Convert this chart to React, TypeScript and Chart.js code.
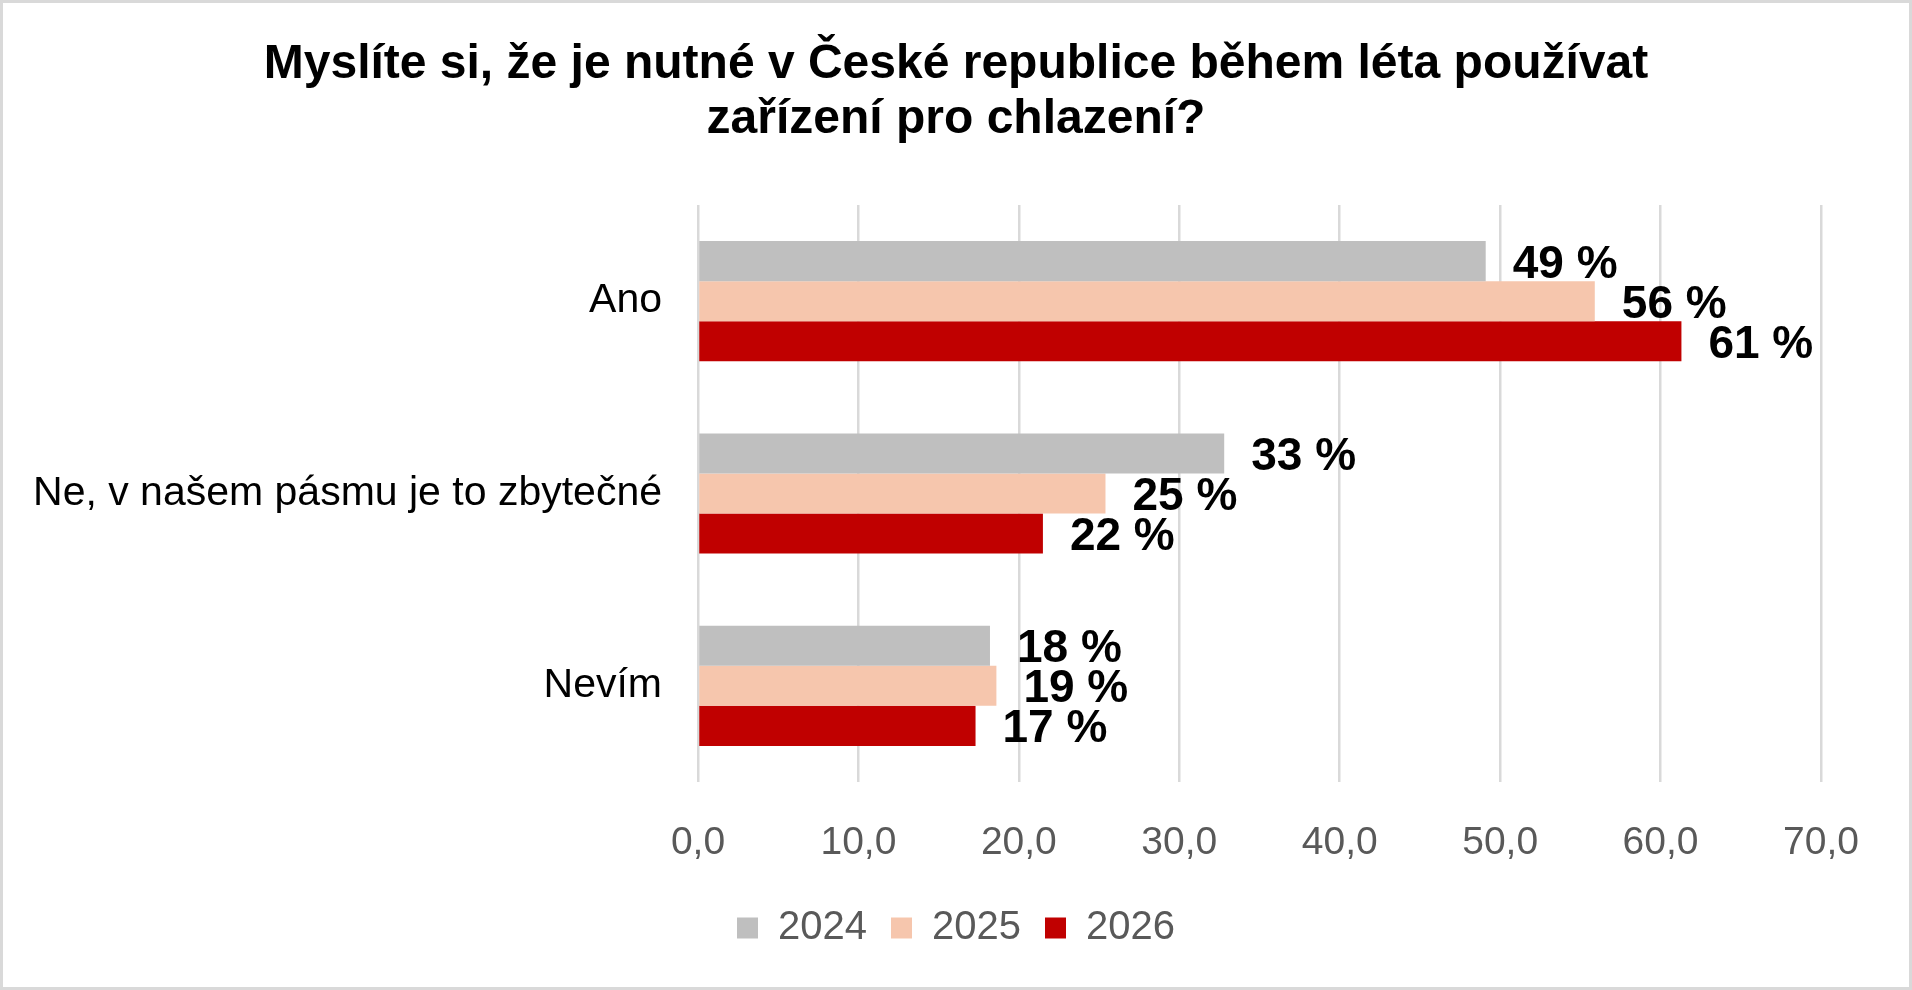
import React, { useEffect, useRef } from "react";
import { Chart, registerables } from "chart.js";

Chart.register(...registerables);

const categories = ["Ano", "Ne, v našem pásmu je to zbytečné", "Nevím"];
const seriesLabels = ["2024", "2025", "2026"];
const values2024 = [49.1, 32.8, 18.2];
const values2025 = [55.9, 25.4, 18.6];
const values2026 = [61.3, 21.5, 17.3];
const seriesColors = ["#BFBFBF", "#F6C6AD", "#C00000"];
const titleLines = [
  "Myslíte si, že je nutné v České republice během léta používat",
  "zařízení pro chlazení?",
];
const xTicksMin = 0;
const xTicksMax = 70;
const xTicksStep = 10;

const FONT = "'Liberation Sans', Arial, Helvetica, sans-serif";

const valueLabelPlugin = {
  id: "valueLabels",
  afterDatasetsDraw(chart: any) {
    const ctx = chart.ctx;
    ctx.save();
    ctx.font = `bold 46px ${FONT}`;
    ctx.fillStyle = "#000000";
    ctx.textAlign = "left";
    ctx.textBaseline = "alphabetic";
    chart.data.datasets.forEach((ds: any, di: number) => {
      const meta = chart.getDatasetMeta(di);
      meta.data.forEach((bar: any, i: number) => {
        const v = ds.data[i];
        const text = `${Math.round(v)} %`;
        ctx.fillText(text, bar.x + 27, bar.y + 16.5);
      });
    });
    ctx.restore();
  },
};

const borderPlugin = {
  id: "outerBorder",
  beforeDraw(chart: any) {
    const ctx = chart.ctx;
    ctx.save();
    ctx.fillStyle = "#FFFFFF";
    ctx.fillRect(0, 0, chart.width, chart.height);
    ctx.restore();
  },
  afterDraw(chart: any) {
    const ctx = chart.ctx;
    ctx.save();
    ctx.strokeStyle = "#D9D9D9";
    ctx.lineWidth = 3;
    ctx.strokeRect(1.5, 1.5, chart.width - 3, chart.height - 3);
    ctx.restore();
  },
};

export default function App() {
  const canvasRef = useRef<HTMLCanvasElement | null>(null);

  useEffect(() => {
    document.body.style.margin = "0";
    const canvas = canvasRef.current;
    if (!canvas) return;
    const chart = new Chart(canvas, {
      type: "bar",
      data: {
        labels: categories,
        datasets: [values2024, values2025, values2026].map((vals, i) => ({
          label: seriesLabels[i],
          data: vals,
          backgroundColor: seriesColors[i],
          borderWidth: 0,
          barPercentage: 1.0,
          categoryPercentage: 0.625,
        })),
      },
      options: {
        indexAxis: "y",
        animation: false,
        responsive: false,
        maintainAspectRatio: false,
        devicePixelRatio: 1,
        layout: { padding: { left: 0, right: 0, top: 0, bottom: 32 } },
        plugins: {
          title: {
            display: true,
            text: titleLines,
            color: "#000000",
            font: { family: FONT, size: 48, weight: "bold", lineHeight: 55.5 / 48 },
            padding: { top: 37, bottom: 57 },
          },
          legend: {
            display: true,
            position: "bottom",
            labels: {
              boxWidth: 21,
              boxHeight: 21,
              padding: 24,
              color: "#595959",
              font: { family: FONT, size: 40 },
            },
          },
          tooltip: { enabled: false },
        },
        scales: {
          x: {
            type: "linear",
            min: xTicksMin,
            max: xTicksMax,
            ticks: {
              stepSize: xTicksStep,
              color: "#595959",
              font: { family: FONT, size: 39 },
              padding: 38,
              callback: (v: any) => Number(v).toFixed(1).replace(".", ","),
            },
            grid: { color: "#D9D9D9", lineWidth: 2.5, drawTicks: false },
            border: { display: false },
            afterFit: (scale: any) => {
              scale.height = 102;
            },
          },
          y: {
            type: "category",
            ticks: {
              color: "#000000",
              font: { family: FONT, size: 41 },
              padding: 36,
            },
            grid: { display: false, drawTicks: false },
            border: { display: false },
            afterFit: (scale: any) => {
              scale.width = 698;
            },
          },
          yRight: {
            type: "category",
            position: "right",
            ticks: { display: false },
            grid: { display: false, drawTicks: false },
            border: { display: false },
            afterFit: (scale: any) => {
              scale.width = 91;
            },
          },
        },
      },
      plugins: [valueLabelPlugin, borderPlugin],
    });
    return () => chart.destroy();
  }, []);

  return (
    <div style={{ width: 1912, height: 990, overflow: "hidden" }}>
      <canvas ref={canvasRef} width={1912} height={990} style={{ display: "block" }} />
    </div>
  );
}
